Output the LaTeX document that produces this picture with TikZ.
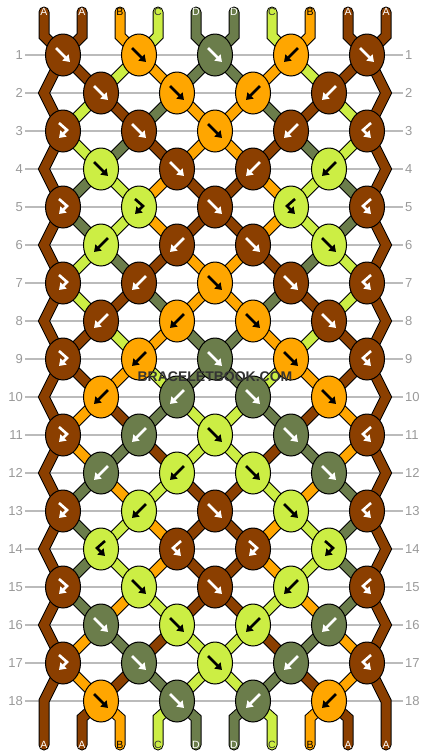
\documentclass[tikz,border=0pt]{standalone}
\usepackage{fontspec}
\setmainfont{Liberation Sans}
\usepackage{tikz}
\usetikzlibrary{shapes.geometric, arrows.meta, backgrounds}

\definecolor{colA}{HTML}{8B3F00}
\definecolor{colB}{HTML}{FFA600}
\definecolor{colC}{HTML}{CCEE44}
\definecolor{colD}{HTML}{6B7D4B}
\definecolor{rowgray}{HTML}{BBBBBB}
\definecolor{numgray}{HTML}{999999}
\definecolor{markgray}{HTML}{333333}

\newcommand\knotarrow{white}
\tikzset{arrow color/.store in=\knotarrow}

\tikzstyle{knot}=[ellipse, draw=black, line width=1pt, minimum width=35pt, minimum height=42pt, inner sep=0pt]
\tikzstyle{kA}=[knot, fill=colA, arrow color=white]
\tikzstyle{kB}=[knot, fill=colB, arrow color=black]
\tikzstyle{kC}=[knot, fill=colC, arrow color=black]
\tikzstyle{kD}=[knot, fill=colD, arrow color=white]
\tikzstyle{arr}=[line width=2.6pt, draw=\knotarrow, -{Triangle[length=6.5pt,width=8.5pt]}]
\tikzstyle{fwd}=[path picture={\draw[arr, shift={(path picture bounding box.center)}] (-7,-7) -- (7,7);}]
\tikzstyle{bwd}=[path picture={\draw[arr, shift={(path picture bounding box.center)}] (7,-7) -- (-7,7);}]
\tikzstyle{fwdbwd}=[path picture={\draw[arr, shift={(path picture bounding box.center)}] (-4,-8) -- (4,-1) -- (-4,7);}]
\tikzstyle{bwdfwd}=[path picture={\draw[arr, shift={(path picture bounding box.center)}] (4,-8) -- (-4,-1) -- (4,7);}]
\tikzstyle{strA}=[draw=black, line width=1pt, double=colA, double distance=9pt]
\tikzstyle{strB}=[draw=black, line width=1pt, double=colB, double distance=9pt]
\tikzstyle{strC}=[draw=black, line width=1pt, double=colC, double distance=9pt]
\tikzstyle{strD}=[draw=black, line width=1pt, double=colD, double distance=9pt]
\tikzstyle{rowline}=[draw=rowgray, line width=1.2pt]
\tikzstyle{rownum}=[numgray, font=\fontsize{13}{13}\selectfont, inner sep=2pt]
\tikzstyle{endlabel}=[font=\fontsize{10.5}{10.5}\selectfont, inner sep=0pt]

\begin{document}
\begin{tikzpicture}[x=1pt, y=-1pt]
    \useasboundingbox (0,0) rectangle (430,756);
    \coordinate (edgeL) at (44,0);
    \coordinate (edgeR) at (386,0);
    \coordinate (topbend) at (0,36);
    \coordinate (botbend) at (0,718);
% Row numbers
    \node[rownum, anchor=east] (l1) at (25,55) {1};
    \node[rownum, anchor=west] (r1) at (403,55) {1};
    \node[rownum, anchor=east] (l2) at (25,93) {2};
    \node[rownum, anchor=west] (r2) at (403,93) {2};
    \node[rownum, anchor=east] (l3) at (25,131) {3};
    \node[rownum, anchor=west] (r3) at (403,131) {3};
    \node[rownum, anchor=east] (l4) at (25,169) {4};
    \node[rownum, anchor=west] (r4) at (403,169) {4};
    \node[rownum, anchor=east] (l5) at (25,207) {5};
    \node[rownum, anchor=west] (r5) at (403,207) {5};
    \node[rownum, anchor=east] (l6) at (25,245) {6};
    \node[rownum, anchor=west] (r6) at (403,245) {6};
    \node[rownum, anchor=east] (l7) at (25,283) {7};
    \node[rownum, anchor=west] (r7) at (403,283) {7};
    \node[rownum, anchor=east] (l8) at (25,321) {8};
    \node[rownum, anchor=west] (r8) at (403,321) {8};
    \node[rownum, anchor=east] (l9) at (25,359) {9};
    \node[rownum, anchor=west] (r9) at (403,359) {9};
    \node[rownum, anchor=east] (l10) at (25,397) {10};
    \node[rownum, anchor=west] (r10) at (403,397) {10};
    \node[rownum, anchor=east] (l11) at (25,435) {11};
    \node[rownum, anchor=west] (r11) at (403,435) {11};
    \node[rownum, anchor=east] (l12) at (25,473) {12};
    \node[rownum, anchor=west] (r12) at (403,473) {12};
    \node[rownum, anchor=east] (l13) at (25,511) {13};
    \node[rownum, anchor=west] (r13) at (403,511) {13};
    \node[rownum, anchor=east] (l14) at (25,549) {14};
    \node[rownum, anchor=west] (r14) at (403,549) {14};
    \node[rownum, anchor=east] (l15) at (25,587) {15};
    \node[rownum, anchor=west] (r15) at (403,587) {15};
    \node[rownum, anchor=east] (l16) at (25,625) {16};
    \node[rownum, anchor=west] (r16) at (403,625) {16};
    \node[rownum, anchor=east] (l17) at (25,663) {17};
    \node[rownum, anchor=west] (r17) at (403,663) {17};
    \node[rownum, anchor=east] (l18) at (25,701) {18};
    \node[rownum, anchor=west] (r18) at (403,701) {18};
% Knots
    \node[kA, fwd] (k1-1) at (63,55) {};
    \node[kB, fwd] (k1-2) at (139,55) {};
    \node[kD, fwd] (k1-3) at (215,55) {};
    \node[kB, bwd] (k1-4) at (291,55) {};
    \node[kA, fwd] (k1-5) at (367,55) {};
    \node[kA, fwd] (k2-1) at (101,93) {};
    \node[kB, fwd] (k2-2) at (177,93) {};
    \node[kB, bwd] (k2-3) at (253,93) {};
    \node[kA, bwd] (k2-4) at (329,93) {};
    \node[kA, fwdbwd] (k3-1) at (63,131) {};
    \node[kA, fwd] (k3-2) at (139,131) {};
    \node[kB, fwd] (k3-3) at (215,131) {};
    \node[kA, bwd] (k3-4) at (291,131) {};
    \node[kA, bwdfwd] (k3-5) at (367,131) {};
    \node[kC, fwd] (k4-1) at (101,169) {};
    \node[kA, fwd] (k4-2) at (177,169) {};
    \node[kA, bwd] (k4-3) at (253,169) {};
    \node[kC, bwd] (k4-4) at (329,169) {};
    \node[kA, fwdbwd] (k5-1) at (63,207) {};
    \node[kC, fwdbwd] (k5-2) at (139,207) {};
    \node[kA, fwd] (k5-3) at (215,207) {};
    \node[kC, bwdfwd] (k5-4) at (291,207) {};
    \node[kA, bwdfwd] (k5-5) at (367,207) {};
    \node[kC, bwd] (k6-1) at (101,245) {};
    \node[kA, bwd] (k6-2) at (177,245) {};
    \node[kA, fwd] (k6-3) at (253,245) {};
    \node[kC, fwd] (k6-4) at (329,245) {};
    \node[kA, fwdbwd] (k7-1) at (63,283) {};
    \node[kA, bwd] (k7-2) at (139,283) {};
    \node[kB, fwd] (k7-3) at (215,283) {};
    \node[kA, fwd] (k7-4) at (291,283) {};
    \node[kA, bwdfwd] (k7-5) at (367,283) {};
    \node[kA, bwd] (k8-1) at (101,321) {};
    \node[kB, bwd] (k8-2) at (177,321) {};
    \node[kB, fwd] (k8-3) at (253,321) {};
    \node[kA, fwd] (k8-4) at (329,321) {};
    \node[kA, fwdbwd] (k9-1) at (63,359) {};
    \node[kB, bwd] (k9-2) at (139,359) {};
    \node[kD, fwd] (k9-3) at (215,359) {};
    \node[kB, fwd] (k9-4) at (291,359) {};
    \node[kA, bwdfwd] (k9-5) at (367,359) {};
    \node[kB, bwd] (k10-1) at (101,397) {};
    \node[kD, bwd] (k10-2) at (177,397) {};
    \node[kD, fwd] (k10-3) at (253,397) {};
    \node[kB, fwd] (k10-4) at (329,397) {};
    \node[kA, fwdbwd] (k11-1) at (63,435) {};
    \node[kD, bwd] (k11-2) at (139,435) {};
    \node[kC, fwd] (k11-3) at (215,435) {};
    \node[kD, fwd] (k11-4) at (291,435) {};
    \node[kA, bwdfwd] (k11-5) at (367,435) {};
    \node[kD, bwd] (k12-1) at (101,473) {};
    \node[kC, bwd] (k12-2) at (177,473) {};
    \node[kC, fwd] (k12-3) at (253,473) {};
    \node[kD, fwd] (k12-4) at (329,473) {};
    \node[kA, fwdbwd] (k13-1) at (63,511) {};
    \node[kC, bwd] (k13-2) at (139,511) {};
    \node[kA, fwd] (k13-3) at (215,511) {};
    \node[kC, fwd] (k13-4) at (291,511) {};
    \node[kA, bwdfwd] (k13-5) at (367,511) {};
    \node[kC, bwdfwd] (k14-1) at (101,549) {};
    \node[kA, bwdfwd] (k14-2) at (177,549) {};
    \node[kA, fwdbwd] (k14-3) at (253,549) {};
    \node[kC, fwdbwd] (k14-4) at (329,549) {};
    \node[kA, fwdbwd] (k15-1) at (63,587) {};
    \node[kC, fwd] (k15-2) at (139,587) {};
    \node[kA, fwd] (k15-3) at (215,587) {};
    \node[kC, bwd] (k15-4) at (291,587) {};
    \node[kA, bwdfwd] (k15-5) at (367,587) {};
    \node[kD, fwd] (k16-1) at (101,625) {};
    \node[kC, fwd] (k16-2) at (177,625) {};
    \node[kC, bwd] (k16-3) at (253,625) {};
    \node[kD, bwd] (k16-4) at (329,625) {};
    \node[kA, fwdbwd] (k17-1) at (63,663) {};
    \node[kD, fwd] (k17-2) at (139,663) {};
    \node[kC, fwd] (k17-3) at (215,663) {};
    \node[kD, bwd] (k17-4) at (291,663) {};
    \node[kA, bwdfwd] (k17-5) at (367,663) {};
    \node[kB, fwd] (k18-1) at (101,701) {};
    \node[kD, fwd] (k18-2) at (177,701) {};
    \node[kD, bwd] (k18-3) at (253,701) {};
    \node[kB, bwd] (k18-4) at (329,701) {};
% String ends
    \node[endlabel, white] (t1) at (44,12) {A};
    \node[endlabel, white] (t2) at (82,12) {A};
    \node[endlabel, black] (t3) at (120,12) {B};
    \node[endlabel, black!80] (t4) at (158,12) {C};
    \node[endlabel, white] (t5) at (196,12) {D};
    \node[endlabel, white] (t6) at (234,12) {D};
    \node[endlabel, black!80] (t7) at (272,12) {C};
    \node[endlabel, black] (t8) at (310,12) {B};
    \node[endlabel, white] (t9) at (348,12) {A};
    \node[endlabel, white] (t10) at (386,12) {A};
    \node[endlabel, white] (b1) at (44,745) {A};
    \node[endlabel, white] (b2) at (82,745) {A};
    \node[endlabel, black] (b3) at (120,745) {B};
    \node[endlabel, black!80] (b4) at (158,745) {C};
    \node[endlabel, white] (b5) at (196,745) {D};
    \node[endlabel, white] (b6) at (234,745) {D};
    \node[endlabel, black!80] (b7) at (272,745) {C};
    \node[endlabel, black] (b8) at (310,745) {B};
    \node[endlabel, white] (b9) at (348,745) {A};
    \node[endlabel, white] (b10) at (386,745) {A};
    \begin{pgfonlayer}{background}
% Row lines
    \draw[rowline] (l1) -- (r1);
    \draw[rowline] (l2) -- (r2);
    \draw[rowline] (l3) -- (r3);
    \draw[rowline] (l4) -- (r4);
    \draw[rowline] (l5) -- (r5);
    \draw[rowline] (l6) -- (r6);
    \draw[rowline] (l7) -- (r7);
    \draw[rowline] (l8) -- (r8);
    \draw[rowline] (l9) -- (r9);
    \draw[rowline] (l10) -- (r10);
    \draw[rowline] (l11) -- (r11);
    \draw[rowline] (l12) -- (r12);
    \draw[rowline] (l13) -- (r13);
    \draw[rowline] (l14) -- (r14);
    \draw[rowline] (l15) -- (r15);
    \draw[rowline] (l16) -- (r16);
    \draw[rowline] (l17) -- (r17);
    \draw[rowline] (l18) -- (r18);
% Edge strings
    \draw[strA, line cap=round] (t1.center) -- (t1 |- topbend) -- (k1-1.center) -- (k2-1 -| edgeL) -- (k3-1.center) -- (k4-1 -| edgeL) -- (k5-1.center) -- (k6-1 -| edgeL) -- (k7-1.center) -- (k8-1 -| edgeL) -- (k9-1.center) -- (k10-1 -| edgeL) -- (k11-1.center) -- (k12-1 -| edgeL) -- (k13-1.center) -- (k14-1 -| edgeL) -- (k15-1.center) -- (k16-1 -| edgeL) -- (k17-1.center) -- (k18-1 -| edgeL) -- (b1.center);
    \draw[strA, line cap=round] (t10.center) -- (t10 |- topbend) -- (k1-5.center) -- (k2-4 -| edgeR) -- (k3-5.center) -- (k4-4 -| edgeR) -- (k5-5.center) -- (k6-4 -| edgeR) -- (k7-5.center) -- (k8-4 -| edgeR) -- (k9-5.center) -- (k10-4 -| edgeR) -- (k11-5.center) -- (k12-4 -| edgeR) -- (k13-5.center) -- (k14-4 -| edgeR) -- (k15-5.center) -- (k16-4 -| edgeR) -- (k17-5.center) -- (k18-4 -| edgeR) -- (b10.center);
% Top strings
    \draw[strA, line cap=round] (t2.center) -- (t2 |- topbend) -- (k1-1.center);
    \draw[strB, line cap=round] (t3.center) -- (t3 |- topbend) -- (k1-2.center);
    \draw[strC, line cap=round] (t4.center) -- (t4 |- topbend) -- (k1-2.center);
    \draw[strD, line cap=round] (t5.center) -- (t5 |- topbend) -- (k1-3.center);
    \draw[strD, line cap=round] (t6.center) -- (t6 |- topbend) -- (k1-3.center);
    \draw[strC, line cap=round] (t7.center) -- (t7 |- topbend) -- (k1-4.center);
    \draw[strB, line cap=round] (t8.center) -- (t8 |- topbend) -- (k1-4.center);
    \draw[strA, line cap=round] (t9.center) -- (t9 |- topbend) -- (k1-5.center);
% Rows 1-2
    \draw[strA] (k1-1.center) -- (k2-1.center);
    \draw[strC] (k1-2.center) -- (k2-1.center);
    \draw[strB] (k1-2.center) -- (k2-2.center);
    \draw[strD] (k1-3.center) -- (k2-2.center);
    \draw[strD] (k1-3.center) -- (k2-3.center);
    \draw[strB] (k1-4.center) -- (k2-3.center);
    \draw[strC] (k1-4.center) -- (k2-4.center);
    \draw[strA] (k1-5.center) -- (k2-4.center);
% Rows 2-3
    \draw[strC] (k2-1.center) -- (k3-1.center);
    \draw[strA] (k2-1.center) -- (k3-2.center);
    \draw[strD] (k2-2.center) -- (k3-2.center);
    \draw[strB] (k2-2.center) -- (k3-3.center);
    \draw[strB] (k2-3.center) -- (k3-3.center);
    \draw[strD] (k2-3.center) -- (k3-4.center);
    \draw[strA] (k2-4.center) -- (k3-4.center);
    \draw[strC] (k2-4.center) -- (k3-5.center);
% Rows 3-4
    \draw[strC] (k3-1.center) -- (k4-1.center);
    \draw[strD] (k3-2.center) -- (k4-1.center);
    \draw[strA] (k3-2.center) -- (k4-2.center);
    \draw[strB] (k3-3.center) -- (k4-2.center);
    \draw[strB] (k3-3.center) -- (k4-3.center);
    \draw[strA] (k3-4.center) -- (k4-3.center);
    \draw[strD] (k3-4.center) -- (k4-4.center);
    \draw[strC] (k3-5.center) -- (k4-4.center);
% Rows 4-5
    \draw[strD] (k4-1.center) -- (k5-1.center);
    \draw[strC] (k4-1.center) -- (k5-2.center);
    \draw[strB] (k4-2.center) -- (k5-2.center);
    \draw[strA] (k4-2.center) -- (k5-3.center);
    \draw[strA] (k4-3.center) -- (k5-3.center);
    \draw[strB] (k4-3.center) -- (k5-4.center);
    \draw[strC] (k4-4.center) -- (k5-4.center);
    \draw[strD] (k4-4.center) -- (k5-5.center);
% Rows 5-6
    \draw[strD] (k5-1.center) -- (k6-1.center);
    \draw[strC] (k5-2.center) -- (k6-1.center);
    \draw[strB] (k5-2.center) -- (k6-2.center);
    \draw[strA] (k5-3.center) -- (k6-2.center);
    \draw[strA] (k5-3.center) -- (k6-3.center);
    \draw[strB] (k5-4.center) -- (k6-3.center);
    \draw[strC] (k5-4.center) -- (k6-4.center);
    \draw[strD] (k5-5.center) -- (k6-4.center);
% Rows 6-7
    \draw[strC] (k6-1.center) -- (k7-1.center);
    \draw[strD] (k6-1.center) -- (k7-2.center);
    \draw[strA] (k6-2.center) -- (k7-2.center);
    \draw[strB] (k6-2.center) -- (k7-3.center);
    \draw[strB] (k6-3.center) -- (k7-3.center);
    \draw[strA] (k6-3.center) -- (k7-4.center);
    \draw[strD] (k6-4.center) -- (k7-4.center);
    \draw[strC] (k6-4.center) -- (k7-5.center);
% Rows 7-8
    \draw[strC] (k7-1.center) -- (k8-1.center);
    \draw[strA] (k7-2.center) -- (k8-1.center);
    \draw[strD] (k7-2.center) -- (k8-2.center);
    \draw[strB] (k7-3.center) -- (k8-2.center);
    \draw[strB] (k7-3.center) -- (k8-3.center);
    \draw[strD] (k7-4.center) -- (k8-3.center);
    \draw[strA] (k7-4.center) -- (k8-4.center);
    \draw[strC] (k7-5.center) -- (k8-4.center);
% Rows 8-9
    \draw[strA] (k8-1.center) -- (k9-1.center);
    \draw[strC] (k8-1.center) -- (k9-2.center);
    \draw[strB] (k8-2.center) -- (k9-2.center);
    \draw[strD] (k8-2.center) -- (k9-3.center);
    \draw[strD] (k8-3.center) -- (k9-3.center);
    \draw[strB] (k8-3.center) -- (k9-4.center);
    \draw[strC] (k8-4.center) -- (k9-4.center);
    \draw[strA] (k8-4.center) -- (k9-5.center);
% Rows 9-10
    \draw[strA] (k9-1.center) -- (k10-1.center);
    \draw[strB] (k9-2.center) -- (k10-1.center);
    \draw[strC] (k9-2.center) -- (k10-2.center);
    \draw[strD] (k9-3.center) -- (k10-2.center);
    \draw[strD] (k9-3.center) -- (k10-3.center);
    \draw[strC] (k9-4.center) -- (k10-3.center);
    \draw[strB] (k9-4.center) -- (k10-4.center);
    \draw[strA] (k9-5.center) -- (k10-4.center);
% Rows 10-11
    \draw[strB] (k10-1.center) -- (k11-1.center);
    \draw[strA] (k10-1.center) -- (k11-2.center);
    \draw[strD] (k10-2.center) -- (k11-2.center);
    \draw[strC] (k10-2.center) -- (k11-3.center);
    \draw[strC] (k10-3.center) -- (k11-3.center);
    \draw[strD] (k10-3.center) -- (k11-4.center);
    \draw[strA] (k10-4.center) -- (k11-4.center);
    \draw[strB] (k10-4.center) -- (k11-5.center);
% Rows 11-12
    \draw[strB] (k11-1.center) -- (k12-1.center);
    \draw[strD] (k11-2.center) -- (k12-1.center);
    \draw[strA] (k11-2.center) -- (k12-2.center);
    \draw[strC] (k11-3.center) -- (k12-2.center);
    \draw[strC] (k11-3.center) -- (k12-3.center);
    \draw[strA] (k11-4.center) -- (k12-3.center);
    \draw[strD] (k11-4.center) -- (k12-4.center);
    \draw[strB] (k11-5.center) -- (k12-4.center);
% Rows 12-13
    \draw[strD] (k12-1.center) -- (k13-1.center);
    \draw[strB] (k12-1.center) -- (k13-2.center);
    \draw[strC] (k12-2.center) -- (k13-2.center);
    \draw[strA] (k12-2.center) -- (k13-3.center);
    \draw[strA] (k12-3.center) -- (k13-3.center);
    \draw[strC] (k12-3.center) -- (k13-4.center);
    \draw[strB] (k12-4.center) -- (k13-4.center);
    \draw[strD] (k12-4.center) -- (k13-5.center);
% Rows 13-14
    \draw[strD] (k13-1.center) -- (k14-1.center);
    \draw[strC] (k13-2.center) -- (k14-1.center);
    \draw[strB] (k13-2.center) -- (k14-2.center);
    \draw[strA] (k13-3.center) -- (k14-2.center);
    \draw[strA] (k13-3.center) -- (k14-3.center);
    \draw[strB] (k13-4.center) -- (k14-3.center);
    \draw[strC] (k13-4.center) -- (k14-4.center);
    \draw[strD] (k13-5.center) -- (k14-4.center);
% Rows 14-15
    \draw[strD] (k14-1.center) -- (k15-1.center);
    \draw[strC] (k14-1.center) -- (k15-2.center);
    \draw[strB] (k14-2.center) -- (k15-2.center);
    \draw[strA] (k14-2.center) -- (k15-3.center);
    \draw[strA] (k14-3.center) -- (k15-3.center);
    \draw[strB] (k14-3.center) -- (k15-4.center);
    \draw[strC] (k14-4.center) -- (k15-4.center);
    \draw[strD] (k14-4.center) -- (k15-5.center);
% Rows 15-16
    \draw[strD] (k15-1.center) -- (k16-1.center);
    \draw[strB] (k15-2.center) -- (k16-1.center);
    \draw[strC] (k15-2.center) -- (k16-2.center);
    \draw[strA] (k15-3.center) -- (k16-2.center);
    \draw[strA] (k15-3.center) -- (k16-3.center);
    \draw[strC] (k15-4.center) -- (k16-3.center);
    \draw[strB] (k15-4.center) -- (k16-4.center);
    \draw[strD] (k15-5.center) -- (k16-4.center);
% Rows 16-17
    \draw[strB] (k16-1.center) -- (k17-1.center);
    \draw[strD] (k16-1.center) -- (k17-2.center);
    \draw[strA] (k16-2.center) -- (k17-2.center);
    \draw[strC] (k16-2.center) -- (k17-3.center);
    \draw[strC] (k16-3.center) -- (k17-3.center);
    \draw[strA] (k16-3.center) -- (k17-4.center);
    \draw[strD] (k16-4.center) -- (k17-4.center);
    \draw[strB] (k16-4.center) -- (k17-5.center);
% Rows 17-18
    \draw[strB] (k17-1.center) -- (k18-1.center);
    \draw[strA] (k17-2.center) -- (k18-1.center);
    \draw[strD] (k17-2.center) -- (k18-2.center);
    \draw[strC] (k17-3.center) -- (k18-2.center);
    \draw[strC] (k17-3.center) -- (k18-3.center);
    \draw[strD] (k17-4.center) -- (k18-3.center);
    \draw[strA] (k17-4.center) -- (k18-4.center);
    \draw[strB] (k17-5.center) -- (k18-4.center);
% Bottom strings
    \draw[strA, line cap=round] (k18-1.center) -- (b2 |- botbend) -- (b2.center);
    \draw[strB, line cap=round] (k18-1.center) -- (b3 |- botbend) -- (b3.center);
    \draw[strC, line cap=round] (k18-2.center) -- (b4 |- botbend) -- (b4.center);
    \draw[strD, line cap=round] (k18-2.center) -- (b5 |- botbend) -- (b5.center);
    \draw[strD, line cap=round] (k18-3.center) -- (b6 |- botbend) -- (b6.center);
    \draw[strC, line cap=round] (k18-3.center) -- (b7 |- botbend) -- (b7.center);
    \draw[strB, line cap=round] (k18-4.center) -- (b8 |- botbend) -- (b8.center);
    \draw[strA, line cap=round] (k18-4.center) -- (b9 |- botbend) -- (b9.center);
    \end{pgfonlayer}
% Watermark
    \node[markgray, font=\fontsize{14}{14}\selectfont\bfseries] (mark) at (215,377) {BRACELETBOOK.COM};
\end{tikzpicture}
\end{document}
